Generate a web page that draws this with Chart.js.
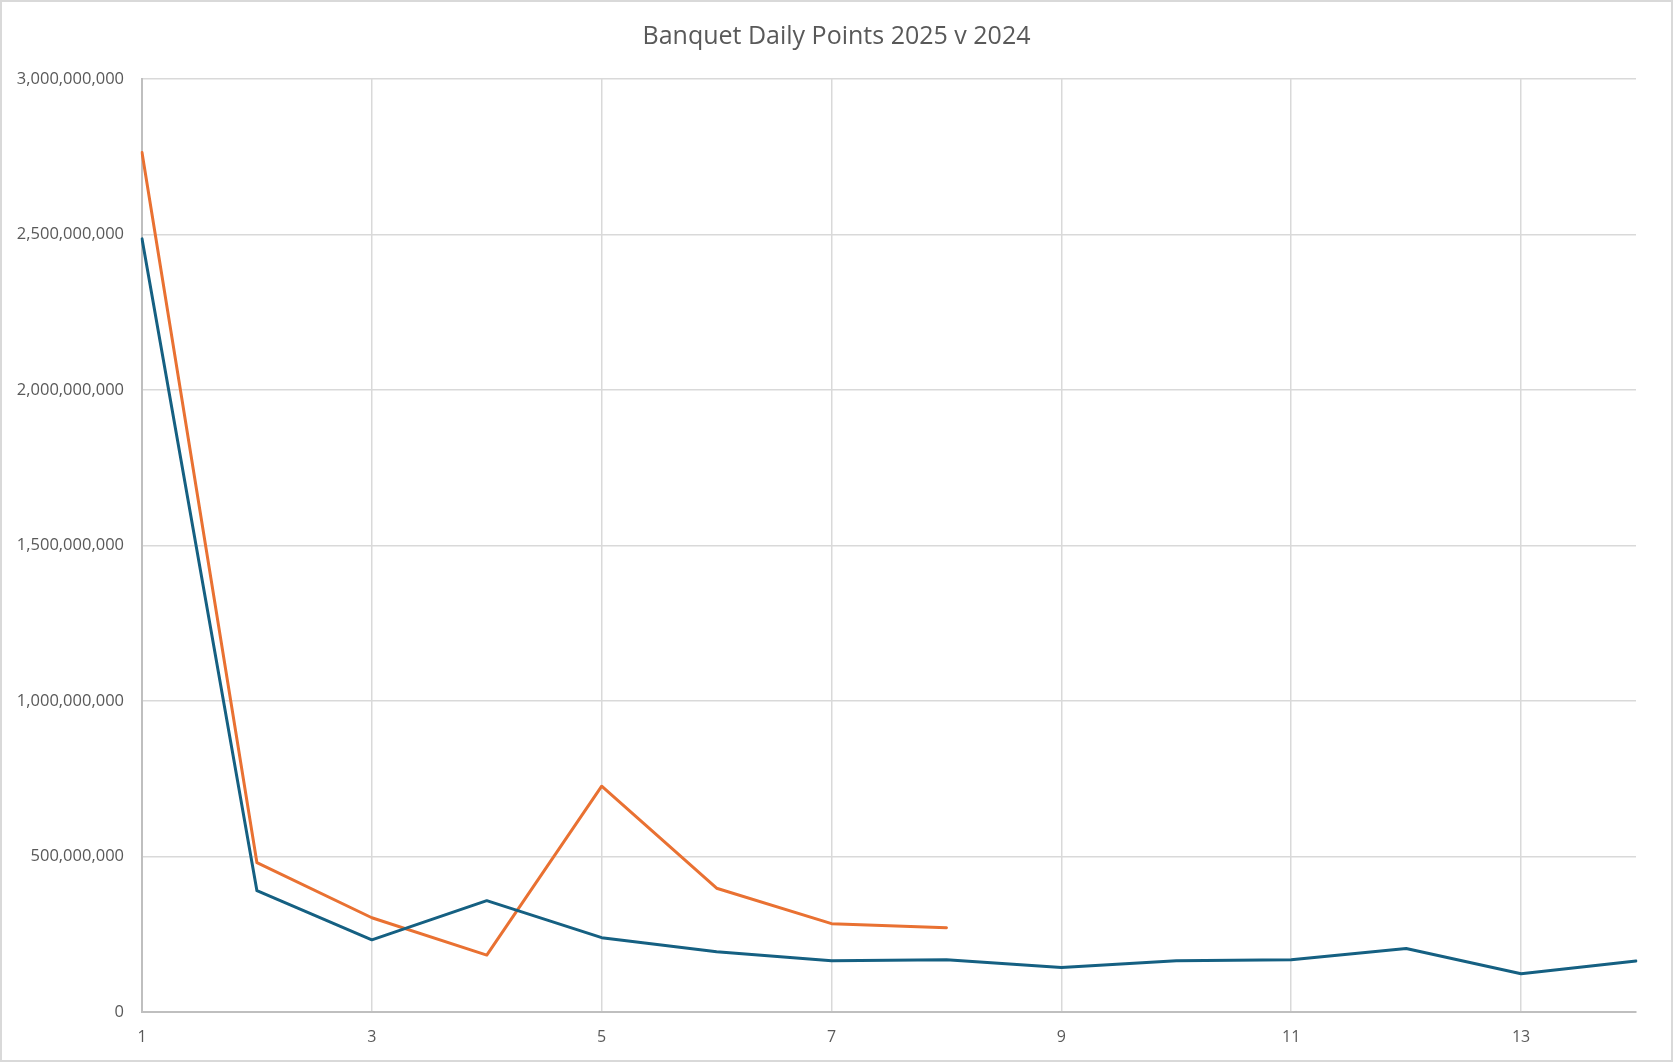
<!DOCTYPE html>
<html>
<head>
<meta charset="utf-8">
<script src="https://cdn.jsdelivr.net/npm/chart.js@4/dist/chart.umd.min.js"></script>
<style>
  html, body { margin: 0; padding: 0; background: #ffffff; }
  #wrap { position: relative; width: 1673px; height: 1062px; }
  canvas { display: block; }
</style>
</head>
<body>
<div id="wrap"><canvas id="c" width="1673" height="1062"></canvas></div>
<script>
const chartTitle = 'Banquet Daily Points 2025 v 2024';
const days = ['1','2','3','4','5','6','7','8','9','10','11','12','13','14'];
const series2024 = [2486000000, 390000000, 232000000, 358000000, 239000000, 194000000, 165000000, 168000000, 143000000, 165000000, 168000000, 204000000, 123000000, 164000000];
const series2025 = [2764000000, 480000000, 303000000, 183000000, 726000000, 398000000, 284000000, 271000000];
const yTicks = [0, 500000000, 1000000000, 1500000000, 2000000000, 2500000000, 3000000000];

const borderPlugin = {
  id: 'outerBorder',
  afterDraw(chart) {
    const ctx = chart.ctx;
    ctx.save();
    ctx.strokeStyle = '#d9d9d9';
    ctx.lineWidth = 2;
    ctx.strokeRect(1, 1, chart.width - 2, chart.height - 2);
    ctx.restore();
  }
};

new Chart(document.getElementById('c'), {
  type: 'line',
  data: {
    labels: days,
    datasets: [
      { label: '2024', data: series2024, borderColor: '#156082', backgroundColor: '#156082', borderWidth: 3, pointRadius: 0, tension: 0, borderJoinStyle: 'round', borderCapStyle: 'round' },
      { label: '2025', data: series2025, borderColor: '#E97132', backgroundColor: '#E97132', borderWidth: 3, pointRadius: 0, tension: 0, borderJoinStyle: 'round', borderCapStyle: 'round' }
    ]
  },
  options: {
    responsive: false,
    animation: false,
    layout: { padding: { left: 0, right: 0, top: 0, bottom: 0 } },
    plugins: {
      legend: { display: false },
      tooltip: { enabled: false },
      title: {
        display: true,
        text: chartTitle,
        color: '#595959',
        font: { family: 'Open Sans', size: 25, weight: 'normal', lineHeight: 1.2 },
        padding: { top: 22, bottom: 27 }
      }
    },
    scales: {
      x: {
        type: 'category',
        offset: false,
        afterFit(s) { s.height = 50; },
        grid: {
          color: (c) => (c.index % 2 === 0 ? '#d9d9d9' : 'rgba(0,0,0,0)'),
          lineWidth: 1.5,
          drawTicks: false
        },
        border: { color: '#bfbfbf', width: 2 },
        ticks: {
          autoSkip: false,
          maxRotation: 0,
          padding: 16,
          color: '#595959',
          font: { family: 'Open Sans', size: 16 },
          callback: function (v, i) { return i % 2 === 0 ? days[i] : ''; }
        }
      },
      y: {
        min: 0,
        max: 3000000000,
        afterFit(s) { s.width = 142; },
        afterBuildTicks(s) { s.ticks = yTicks.map(v => ({ value: v })); },
        grid: { color: '#d9d9d9', lineWidth: 1.5, drawTicks: false },
        border: { color: '#bfbfbf', width: 2 },
        ticks: {
          padding: 18,
          color: '#595959',
          font: { family: 'Open Sans', size: 16.5 },
          callback: (v) => Number(v).toLocaleString('en-US')
        }
      },
      yRight: {
        position: 'right',
        min: 0,
        max: 3000000000,
        afterFit(s) { s.width = 37; },
        grid: { display: false, drawOnChartArea: false },
        border: { display: false },
        ticks: { display: false }
      }
    }
  },
  plugins: [borderPlugin]
});
</script>
</body>
</html>
